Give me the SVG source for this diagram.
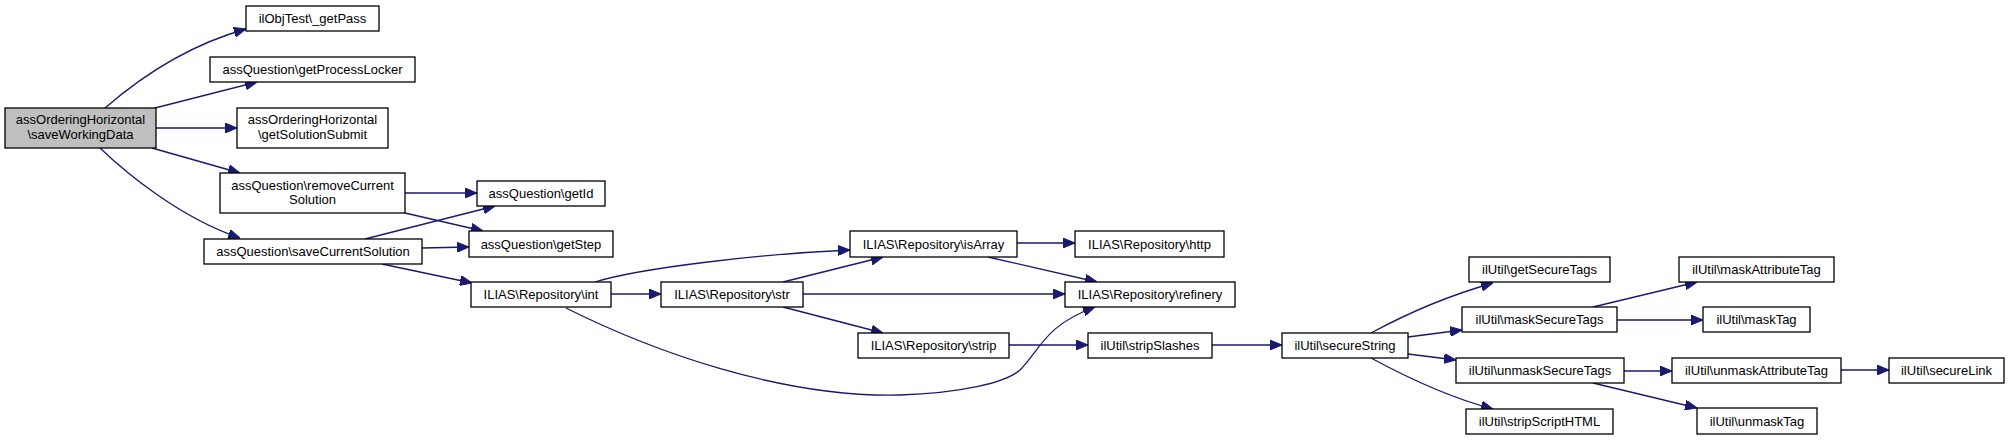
<svg xmlns="http://www.w3.org/2000/svg" width="2009" height="440" viewBox="0 0 2009 440">
<style>
.n rect{fill:#fff;stroke:#000;stroke-width:1.3}
.n.main rect{fill:#bfbfbf}
.n text{font-family:"Liberation Sans",Arial,sans-serif;font-size:13px;fill:#000;text-anchor:middle}
.e path{fill:none;stroke:#191970;stroke-width:1.3;marker-end:url(#ah)}
</style>
<defs>
<marker id="ah" viewBox="0 0 12 10" refX="12" refY="5" markerWidth="12" markerHeight="10" markerUnits="userSpaceOnUse" orient="auto">
<path d="M0,0 L12,5 L0,10 z" fill="#191970" stroke="#191970" stroke-width="1"/>
</marker>
</defs>
<rect width="2009" height="440" fill="#fff"/>
<g id="edges" class="e">
<path d="M105,108 C135,82 185,46 246,29"/>
<path d="M155,108 L257,82"/>
<path d="M156,128 L237,128"/>
<path d="M152,148 L240,173"/>
<path d="M100,148 C125,172 180,218 240,238"/>
<path d="M405,193 L477,193"/>
<path d="M405,213 L483,231"/>
<path d="M365,239 L495,206"/>
<path d="M422,248 L469,247"/>
<path d="M382,264 L472,283"/>
<path d="M595,282 C640,268 760,254 850,250"/>
<path d="M611,294 L661,294"/>
<path d="M566,308 C650,350 780,398 900,395 C960,393 1005,383 1020,370 C1040,350 1045,325 1095,307"/>
<path d="M783,282 L883,257"/>
<path d="M803,294 L1065,294"/>
<path d="M783,307 L883,333"/>
<path d="M1017,243 L1075,243"/>
<path d="M988,257 L1097,282"/>
<path d="M1009,345 L1088,345"/>
<path d="M1212,345 L1282,345"/>
<path d="M1371,333 C1395,320 1440,298 1493,283"/>
<path d="M1408,337 L1462,330"/>
<path d="M1408,354 L1456,360"/>
<path d="M1371,358 C1395,371 1440,395 1493,409"/>
<path d="M1593,307 L1697,282"/>
<path d="M1617,320 L1703,320"/>
<path d="M1624,371 L1672,371"/>
<path d="M1593,383 L1697,408"/>
<path d="M1841,370 L1889,370"/>
</g>
<g id="n_main" class="n main"><rect x="5" y="108" width="151" height="40"/><text x="80.5" y="123.5">assOrderingHorizontal</text><text x="80.5" y="138.5">\saveWorkingData</text></g>
<g id="n_getPass" class="n"><rect x="246" y="6" width="133" height="25"/><text x="312.5" y="23">ilObjTest\_getPass</text></g>
<g id="n_getProcessLocker" class="n"><rect x="210" y="57" width="205" height="25"/><text x="312.5" y="74">assQuestion\getProcessLocker</text></g>
<g id="n_getSolutionSubmit" class="n"><rect x="237" y="108" width="151" height="40"/><text x="312.5" y="123.5">assOrderingHorizontal</text><text x="312.5" y="138.5">\getSolutionSubmit</text></g>
<g id="n_removeCurrentSolution" class="n"><rect x="220" y="173" width="185" height="40"/><text x="312.5" y="189.5">assQuestion\removeCurrent</text><text x="312.5" y="203.5">Solution</text></g>
<g id="n_saveCurrentSolution" class="n"><rect x="204" y="239" width="218" height="25"/><text x="313" y="256">assQuestion\saveCurrentSolution</text></g>
<g id="n_getId" class="n"><rect x="477" y="181" width="128" height="25"/><text x="541" y="198">assQuestion\getId</text></g>
<g id="n_getStep" class="n"><rect x="469" y="231" width="144" height="26"/><text x="541" y="248.5">assQuestion\getStep</text></g>
<g id="n_int" class="n"><rect x="471" y="282" width="140" height="25"/><text x="541" y="299">ILIAS\Repository\int</text></g>
<g id="n_str" class="n"><rect x="661" y="282" width="142" height="25"/><text x="732" y="299">ILIAS\Repository\str</text></g>
<g id="n_isArray" class="n"><rect x="850" y="231" width="167" height="26"/><text x="933.5" y="248.5">ILIAS\Repository\isArray</text></g>
<g id="n_http" class="n"><rect x="1075" y="231" width="149" height="26"/><text x="1149.5" y="248.5">ILIAS\Repository\http</text></g>
<g id="n_refinery" class="n"><rect x="1065" y="282" width="170" height="25"/><text x="1150" y="299">ILIAS\Repository\refinery</text></g>
<g id="n_strip" class="n"><rect x="858" y="333" width="151" height="25"/><text x="933.5" y="350">ILIAS\Repository\strip</text></g>
<g id="n_stripSlashes" class="n"><rect x="1088" y="333" width="124" height="25"/><text x="1150" y="350">ilUtil\stripSlashes</text></g>
<g id="n_secureString" class="n"><rect x="1282" y="333" width="126" height="25"/><text x="1345" y="350">ilUtil\secureString</text></g>
<g id="n_getSecureTags" class="n"><rect x="1469" y="257" width="141" height="25"/><text x="1539.5" y="274">ilUtil\getSecureTags</text></g>
<g id="n_maskSecureTags" class="n"><rect x="1462" y="307" width="155" height="25"/><text x="1539.5" y="324">ilUtil\maskSecureTags</text></g>
<g id="n_unmaskSecureTags" class="n"><rect x="1456" y="358" width="168" height="25"/><text x="1540" y="375">ilUtil\unmaskSecureTags</text></g>
<g id="n_stripScriptHTML" class="n"><rect x="1466" y="409" width="147" height="25"/><text x="1539.5" y="426">ilUtil\stripScriptHTML</text></g>
<g id="n_maskAttributeTag" class="n"><rect x="1679" y="257" width="155" height="25"/><text x="1756.5" y="274">ilUtil\maskAttributeTag</text></g>
<g id="n_maskTag" class="n"><rect x="1703" y="307" width="107" height="25"/><text x="1756.5" y="324">ilUtil\maskTag</text></g>
<g id="n_unmaskAttributeTag" class="n"><rect x="1672" y="358" width="169" height="25"/><text x="1756.5" y="375">ilUtil\unmaskAttributeTag</text></g>
<g id="n_unmaskTag" class="n"><rect x="1697" y="408" width="120" height="26"/><text x="1757" y="425.5">ilUtil\unmaskTag</text></g>
<g id="n_secureLink" class="n"><rect x="1889" y="358" width="115" height="25"/><text x="1946.5" y="375">ilUtil\secureLink</text></g>
</svg>
